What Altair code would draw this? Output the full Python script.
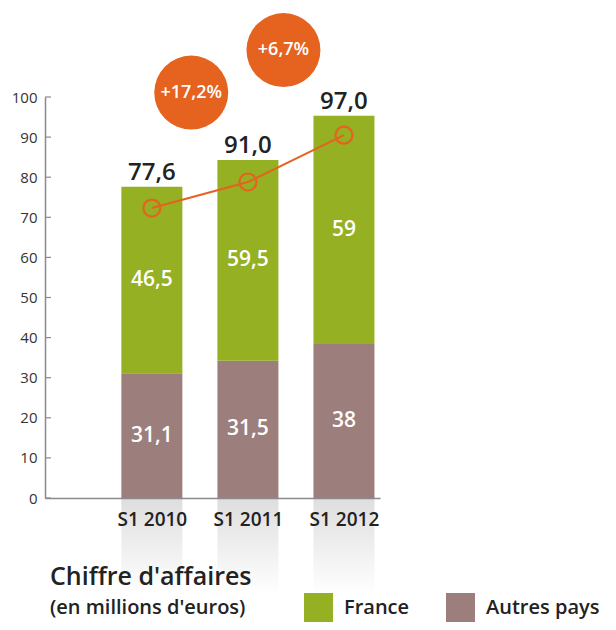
import altair as alt
import pandas as pd

# ---- data ----
categories = ["S1 2010", "S1 2011", "S1 2012"]
autres_height = [31.1, 34.2, 38.4]      # drawn top of "Autres pays" segment
total_height = [77.6, 84.3, 95.3]       # drawn top of stacked bar
autres_labels = ["31,1", "31,5", "38"]
france_labels = ["46,5", "59,5", "59"]
total_labels = ["77,6", "91,0", "97,0"]
trend_values = [72.3, 78.8, 90.5]
growth_labels = ["+17,2%", "+6,7%"]
growth_x = [0.41, 1.37]
growth_y = [101.1, 111.7]
y_ticks = [0, 10, 20, 30, 40, 50, 60, 70, 80, 90, 100]
series = ["France", "Autres pays"]

GREEN = "#95b022"
BROWN = "#9c7e7c"
ORANGE = "#e5621f"
FONT = "Open Sans"
DARK = "#222222"

idx = list(range(len(categories)))

seg = pd.DataFrame({
    "i": idx * 2,
    "serie": ["Autres pays"] * 3 + ["France"] * 3,
    "start": [0] * 3 + autres_height,
    "end": autres_height + total_height,
    "label": autres_labels + france_labels,
})
seg["mid"] = (seg["start"] + seg["end"]) / 2

tops = pd.DataFrame({"i": idx, "top": total_height, "label": total_labels,
                     "trend": trend_values, "zero": [0] * 3, "refl": [-24] * 3})
bubbles = pd.DataFrame({"x": growth_x, "y": growth_y, "label": growth_labels})
ticks = pd.DataFrame({"v": y_ticks})

xscale = alt.Scale(domain=[-1.0606, 2.3232], nice=False, zero=False)
yscale = alt.Scale(domain=[0, 100], nice=False)

label_expr = "[" + ",".join("'" + c + "'" for c in categories) + "][datum.value]"

x_axis = alt.Axis(values=idx, labelExpr=label_expr, title=None, ticks=False,
                  grid=False, domainColor="#8a8a8a", domainWidth=1.5,
                  labelFont=FONT, labelFontSize=19, labelFontWeight=600,
                  labelColor=DARK, labelPadding=12, zindex=1)
y_axis = alt.Axis(values=y_ticks, title=None, ticks=False, grid=False,
                  domainColor="#8a8a8a", domainWidth=1.5, labelFont=FONT,
                  labelFontSize=15, labelColor="#333333", labelPadding=8,
                  zindex=1)

reflection = alt.Chart(tops).mark_bar(
    size=61,
    color=alt.Gradient(gradient="linear", x1=0, x2=0, y1=0, y2=1,
                       stops=[alt.GradientStop(color="#dedede", offset=0),
                              alt.GradientStop(color="#ffffff", offset=1)])
).encode(
    x=alt.X("i:Q", scale=xscale, axis=x_axis),
    y=alt.Y("zero:Q", scale=yscale, axis=y_axis),
    y2="refl:Q",
)

bars = alt.Chart(seg).mark_bar(size=61).encode(
    x=alt.X("i:Q", scale=xscale),
    y=alt.Y("start:Q", scale=yscale),
    y2="end:Q",
    color=alt.Color("serie:N", scale=alt.Scale(domain=series, range=[GREEN, BROWN]),
                    legend=alt.Legend(
                        title=None, orient="none", direction="horizontal",
                        legendX=259, legendY=496, symbolType="square",
                        symbolSize=841, symbolStrokeWidth=0, labelFont=FONT,
                        labelFontSize=20, labelFontWeight=600, labelColor=DARK,
                        labelOffset=11, columnPadding=36)),
)

seg_text = alt.Chart(seg).mark_text(font=FONT, fontSize=21, fontWeight=600,
                                    color="white").encode(
    x=alt.X("i:Q", scale=xscale),
    y=alt.Y("mid:Q", scale=yscale),
    text="label:N",
)

top_text = alt.Chart(tops).mark_text(font=FONT, fontSize=24, fontWeight=600,
                                     color=DARK, baseline="bottom", dy=-2).encode(
    x=alt.X("i:Q", scale=xscale),
    y=alt.Y("top:Q", scale=yscale),
    text="label:N",
)

ytick_rules = alt.Chart(ticks).mark_rule(color="#8a8a8a", strokeWidth=1.2).encode(
    x=alt.value(0), x2=alt.value(6),
    y=alt.Y("v:Q", scale=yscale),
)

line = alt.Chart(tops).mark_line(color=ORANGE, strokeWidth=2).encode(
    x=alt.X("i:Q", scale=xscale),
    y=alt.Y("trend:Q", scale=yscale),
)
points = alt.Chart(tops).mark_point(shape="circle", filled=False, size=289,
                                    color=ORANGE, strokeWidth=2.2, opacity=1).encode(
    x=alt.X("i:Q", scale=xscale),
    y=alt.Y("trend:Q", scale=yscale),
)

bubble = alt.Chart(bubbles).mark_circle(size=5476, color=ORANGE, opacity=1).encode(
    x=alt.X("x:Q", scale=xscale),
    y=alt.Y("y:Q", scale=yscale),
)
bubble_text = alt.Chart(bubbles).mark_text(font=FONT, fontSize=18, fontWeight=600,
                                           color="white").encode(
    x=alt.X("x:Q", scale=xscale),
    y=alt.Y("y:Q", scale=yscale),
    text="label:N",
)

chart = alt.layer(
    reflection, bars, seg_text, top_text, ytick_rules, line, points, bubble, bubble_text
).properties(
    width=335,
    height=401,
    autosize=alt.AutoSizeParams(type="none"),
    padding={"left": 37, "top": 89, "right": 228, "bottom": 124},
    title=alt.TitleParams(
        "Chiffre d'affaires", subtitle="(en millions d'euros)", orient="bottom",
        anchor="start", frame="group", font=FONT, fontSize=25, fontWeight=600,
        color=DARK, subtitleFont=FONT, subtitleFontSize=20, subtitleFontWeight=600,
        subtitleColor=DARK, offset=-57, dx=5, subtitlePadding=8),
).configure_view(stroke=None)

chart.save("out.html", embed_options={"renderer": "svg", "actions": False})
